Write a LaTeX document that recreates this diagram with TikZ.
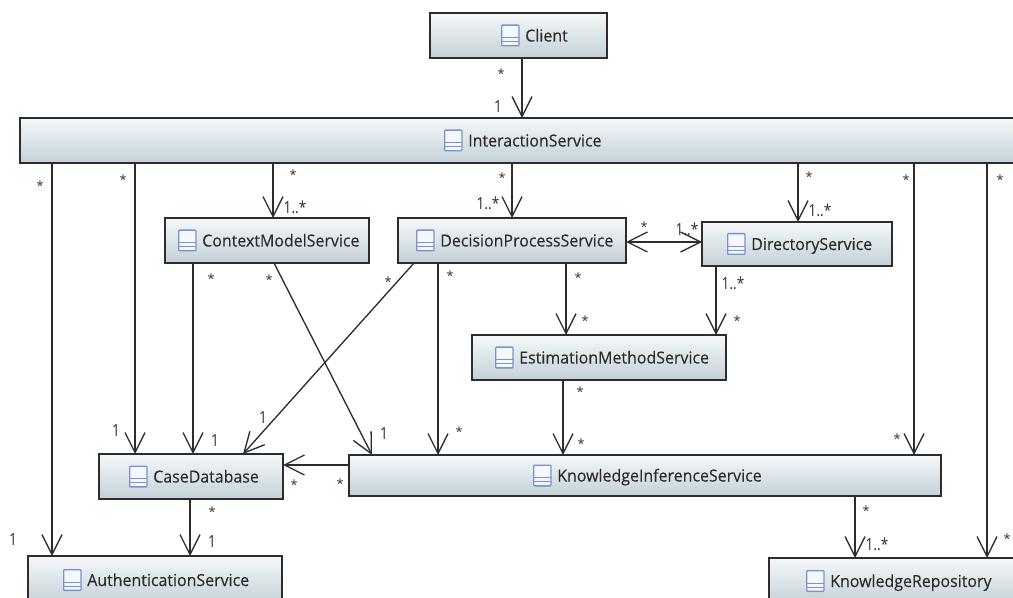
\documentclass[tikz,border=0pt]{standalone}
\usepackage{fontspec}
\setmainfont{Open Sans}
\newfontfamily\multfont[FakeStretch=0.82]{Open Sans}
\newfontfamily\namefont[FakeBold=0.25,FakeStretch=0.96]{Open Sans}
\usetikzlibrary{arrows.meta,calc}
\definecolor{boxtop}{HTML}{F5F8F9}
\definecolor{boxbot}{HTML}{C3D1D7}
\definecolor{ink}{HTML}{2F2C2B}
\definecolor{iconblue}{HTML}{7A93CC}
\definecolor{icontop}{HTML}{F4F7FB}
\tikzset{
  umlbox/.style={draw=ink,line width=1pt,top color=boxtop,bottom color=boxbot,inner sep=0pt,outer sep=0pt},
  umlname/.style={anchor=base west,inner sep=0pt,text=ink,font=\namefont\fontsize{12.45}{14}\selectfont},
  umlicon/.style={draw=iconblue,line width=1pt,fill=icontop,rounded corners=0.6pt,inner sep=0pt,minimum width=13pt,minimum height=15.5pt,
    path picture={\draw[iconblue,line width=0.9pt]
      ([yshift=-9.5pt]path picture bounding box.north west) -- ([yshift=-9.5pt]path picture bounding box.north east)
      ([yshift=-12.5pt]path picture bounding box.north west) -- ([yshift=-12.5pt]path picture bounding box.north east);}},
  conn/.style={draw=ink,line width=1pt,-{Straight Barb[length=15pt,width=15pt,line width=1pt]}},
  connboth/.style={draw=ink,line width=1pt,{Straight Barb[length=15pt,width=15pt,line width=1pt]}-{Straight Barb[length=15pt,width=15pt,line width=1pt]}},
  mult/.style={anchor=base,inner sep=0pt,text=ink,font=\multfont\fontsize{12.5}{14}\selectfont},
  star/.style={anchor=base,inner sep=0pt,text=ink,font=\fontsize{9.5}{12}\selectfont,yshift=-5pt},
  one/.style={mult,yshift=-5pt}
}
% name, x1, y1, x2, y2, icon left, text
\newcommand{\umlclass}[7]{%
  \node[umlbox,minimum width={(#4-#2)*0.75pt},minimum height={(#5-#3)*0.75pt}] (#1) at ({(#2+#4)/2},{(#3+#5)/2}) {};
  \node[umlicon,anchor=west] (#1-icon) at (#6,{(#3+#5)/2}) {};
  \node[umlname] (#1-name) at ({#6+24},{(#3+#5)/2+6}) {#7};
}
\begin{document}
\begin{tikzpicture}[x=0.75pt,y=-0.75pt]
\path[use as bounding box,clip] (0,0) rectangle (1013,598);
\fill[white] (0,0) rectangle (1013,598);
\umlclass{client}{430}{13}{607}{58}{501}{Client}
\umlclass{inter}{20}{118}{1040}{163}{444}{InteractionService}
\umlclass{context}{165}{218}{369}{263}{178}{ContextModelService}
\umlclass{decision}{398}{218}{626}{263}{416}{DecisionProcessService}
\umlclass{directory}{702}{222}{892}{266}{727}{DirectoryService}
\umlclass{estimation}{472}{335}{726}{380}{495}{EstimationMethodService}
\umlclass{case}{99}{454}{283}{499}{129}{CaseDatabase}
\umlclass{knowledge}{349}{455}{941}{496}{533}{KnowledgeInferenceService}
\umlclass{auth}{28}{556}{282}{604}{63}{AuthenticationService}
\umlclass{repo}{769}{558}{1040}{604}{806}{KnowledgeRepository}

\draw[conn] (client.south -| 522,0) -- (inter.north -| 522,0);
\draw[conn] (inter.south -| 52,0) -- (auth.north -| 52,0);
\draw[conn] (inter.south -| 135,0) -- (case.north -| 135,0);
\draw[conn] (inter.south -| 273,0) -- (context.north -| 273,0);
\draw[conn] (inter.south -| 512,0) -- (decision.north -| 512,0);
\draw[conn] (inter.south -| 798,0) -- (directory.north -| 798,0);
\draw[conn] (inter.south -| 914,0) -- (knowledge.north -| 914,0);
\draw[conn] (inter.south -| 987,0) -- (repo.north -| 987,0);
\draw[conn] (context.south -| 193,0) -- (case.north -| 193,0);
\draw[conn] (context.south -| 274,0) -- (knowledge.north -| 372,0);
\draw[conn] (decision.south -| 414,0) -- (case.north -| 243,0);
\draw[conn] (decision.south -| 438,0) -- (knowledge.north -| 438,0);
\draw[conn] (decision.south -| 566,0) -- (estimation.north -| 566,0);
\draw[conn] (directory.south -| 716,0) -- (estimation.north -| 716,0);
\draw[connboth] (decision.east |- 0,242) -- (directory.west |- 0,242);
\draw[conn] (estimation.south -| 563,0) -- (knowledge.north -| 563,0);
\draw[conn] (knowledge.west |- 0,465) -- (case.east |- 0,465);
\draw[conn] (case.south -| 190,0) -- (auth.north -| 190,0);
\draw[conn] (knowledge.south -| 855,0) -- (repo.north -| 855,0);

\node[star] (m1) at (501,72) {*};
\node[one] (m2) at (498,106) {1};
\node[star] (m3) at (40,184) {*};
\node[star] (m4) at (123,178) {*};
\node[star] (m5) at (293,173) {*};
\node[one] (m6) at (295,207) {1..*};
\node[star] (m7) at (502,176) {*};
\node[one] (m8) at (488,203) {1..*};
\node[star] (m9) at (809,175) {*};
\node[one] (m10) at (820,210) {1..*};
\node[star] (m11) at (906,178) {*};
\node[star] (m12) at (1000,178) {*};
\node[star] (m13) at (644,225) {*};
\node[one] (m14) at (687,229) {1..*};
\node[star] (m15) at (578,276) {*};
\node[star] (m16) at (585,319) {*};
\node[one] (m17) at (733,283) {1..*};
\node[star] (m18) at (737,319) {*};
\node[star] (m19) at (211,277) {*};
\node[star] (m20) at (269,278) {*};
\node[star] (m21) at (388,280) {*};
\node[star] (m22) at (450,274) {*};
\node[one] (m23) at (263,417) {1};
\node[one] (m24) at (384,433) {1};
\node[star] (m25) at (459,430) {*};
\node[one] (m26) at (116,430) {1};
\node[one] (m27) at (215,440) {1};
\node[star] (m28) at (294,483) {*};
\node[star] (m29) at (340,482) {*};
\node[star] (m30) at (212,510) {*};
\node[one] (m31) at (212,541) {1};
\node[one] (m32) at (13,539) {1};
\node[star] (m33) at (580,390) {*};
\node[star] (m34) at (581,442) {*};
\node[star] (m35) at (897,437) {*};
\node[star] (m36) at (866,509) {*};
\node[one] (m37) at (877,544) {1..*};
\node[star] (m38) at (1007,537) {*};
\end{tikzpicture}
\end{document}
